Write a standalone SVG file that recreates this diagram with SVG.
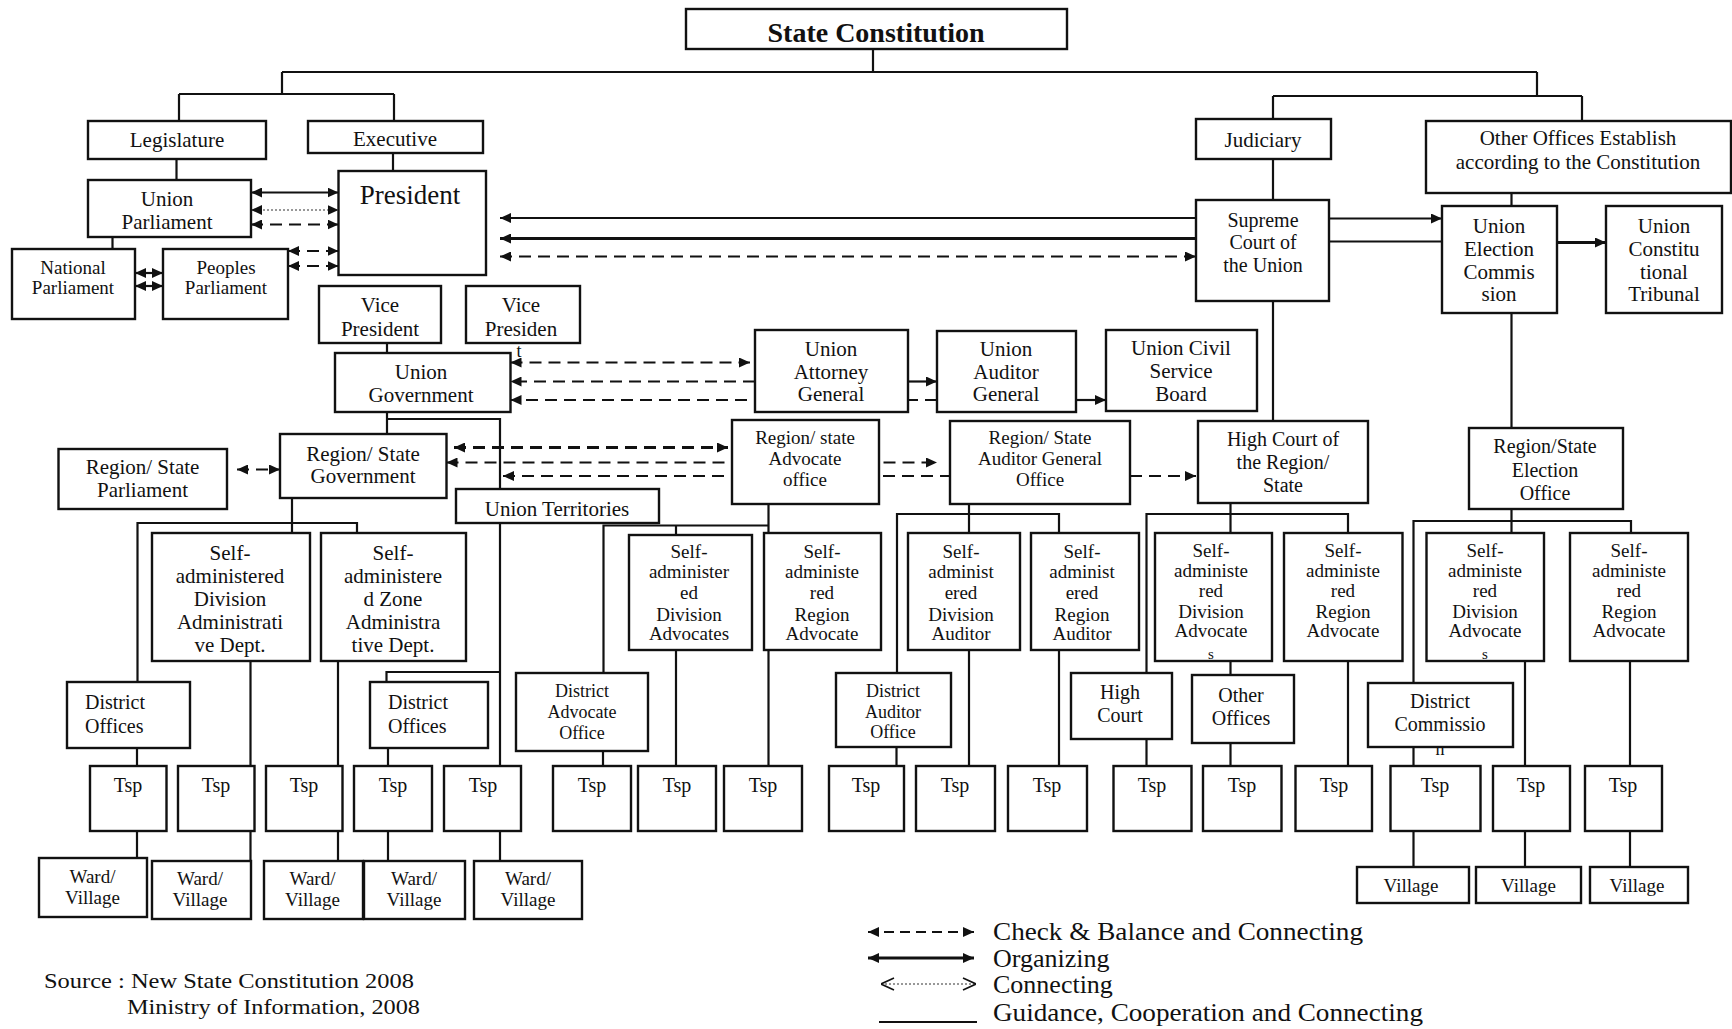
<svg xmlns="http://www.w3.org/2000/svg" width="1732" height="1029" viewBox="0 0 1732 1029">
<style>
  rect { fill:#fff; stroke:#111; stroke-width:2.4; }
  text { font-family:"Liberation Serif","Times New Roman",serif; font-size:21px; fill:#111; text-anchor:middle; }
  .sm { font-size:19px; }
  .xs { font-size:18px; }
  .tiny { font-size:15px; }
  .md { font-size:20px; }
  .lft { text-anchor:start; }
  .title { font-size:28px; font-weight:bold; }
  .big { font-size:27px; }
  .ln { fill:none; stroke:#111; stroke-width:2.2; }
  .dash { fill:none; stroke:#111; stroke-width:2.2; stroke-dasharray:12 7; }
  .thick { stroke-width:3; }
  .dot { fill:none; stroke:#777; stroke-width:1.6; stroke-dasharray:2 2; }
  .both { marker-start:url(#ah); marker-end:url(#ah); }
  .end { marker-end:url(#ah); }
  .legend { font-size:26px; text-anchor:start; }
  .src { font-size:22px; text-anchor:start; }
</style>
<defs>
  <marker id="ah" viewBox="0 0 11 10" refX="11" refY="5" markerWidth="11" markerHeight="10" markerUnits="userSpaceOnUse" orient="auto-start-reverse">
    <path d="M0,0 L11,5 L0,10 z" fill="#111"/>
  </marker>
  <marker id="open" viewBox="0 0 14 14" refX="14" refY="7" markerWidth="14" markerHeight="14" markerUnits="userSpaceOnUse" orient="auto-start-reverse">
    <path d="M1,1 L14,7 L1,13" fill="none" stroke="#111" stroke-width="1.6"/>
  </marker>
</defs>

<!-- connectors (drawn first so boxes sit on top) -->
<g id="connectors">
  <!-- tree lines -->
  <path class="ln" d="M873,49V72 M282,72H1537 M282,72V94 M179,94H394 M179,94V121 M394,94V121
    M1537,72V96 M1273,96H1582 M1273,96V119 M1582,96V121
    M176.5,159V180 M393,153V171 M112.5,237V249 M1273,159V200 M1511.5,193V206
    M1273,301V421 M1511.5,313V428 M387,343V353 M387,412V434 M387,419H500V489
    M500,523V766 M500,831V861 M386.5,682V672H500
    M292,498V533 M137.5,682V523H357V533
    M250.5,661V766 M250.5,831V861 M338,661V766 M338,831V861
    M137,748V766 M137,831V858 M388,748V766 M388,831V861
    M603.5,673V525.5H768.5 M768.5,504V533 M676,525.5V535 M603,751V766
    M676,650V766 M768.5,650V766
    M969,504V533 M897,673V514H1059V533 M896.5,747V766 M969,650V766 M1059,650V766
    M1230.5,503V533 M1146.5,673V514H1348V533 M1146.5,739V766
    M1230.5,661V675 M1230.5,743V766 M1348,661V766
    M1511.5,509V533 M1413.5,683V521H1631V533 M1413.5,747V766 M1413.5,831V867
    M1525,661V766 M1525,831V867 M1630,661V766 M1630,831V867
    M1329,241.5H1442"/>
  <!-- organizing -->
  <path class="ln both" d="M251,192.5H338.5"/>
  <path class="ln both" d="M135,273H163"/>
  <path class="ln both" d="M135,286H163"/>
  <path class="ln end" d="M1196,218H500"/>
  <path class="ln thick end" d="M1196,238.5H500"/>
  <path class="ln end" d="M1329,218.5H1442"/>
  <path class="ln thick end" d="M1557,242.5H1606"/>
  <path class="ln end" d="M908,381.5H937"/>
  <path class="ln end" d="M1076,400H1106"/>
  <!-- connecting -->
  <path class="dot both" d="M251,210H338.5"/>
  <!-- check and balance -->
  <path class="dash both" d="M251,224.5H338.5"/>
  <path class="dash both" d="M288,251H338.5"/>
  <path class="dash both" d="M288,266H338.5"/>
  <path class="dash both" d="M500,256.5H1196"/>
  <path class="dash both" d="M510.5,362.5H750"/>
  <path class="dash end" d="M755,381.5H510.5"/>
  <path class="dash end" d="M937,400H510.5"/>
  <path class="dash thick both" d="M454,447.5H728"/>
  <path class="dash both" d="M446.5,462.5H937"/>
  <path class="dash both" d="M503,476H1196"/>
  <path class="dash both" d="M237,469.5H280"/>
</g>

<g id="state_constitution"><rect x="686" y="9" width="381" height="40"/><text class="title" x="876" y="42">State Constitution</text></g>
<g id="legislature"><rect x="88" y="121" width="178" height="38"/><text x="177" y="147">Legislature</text></g>
<g id="executive"><rect x="308" y="121" width="175" height="32"/><text x="395" y="146">Executive</text></g>
<g id="judiciary"><rect x="1196" y="119" width="135" height="40"/><text x="1263" y="147">Judiciary</text></g>
<g id="other_offices"><rect x="1426" y="121" width="305" height="72"/><text x="1578" y="145">Other Offices Establish</text><text x="1578" y="169">according  to the Constitution</text></g>
<g id="union_parliament"><rect x="88" y="180" width="163" height="57"/><text x="167" y="206">Union</text><text x="167" y="229">Parliament</text></g>
<g id="president"><rect x="338.5" y="171" width="147.5" height="104"/><text class="big" x="410" y="204">President</text></g>
<g id="national_parliament"><rect x="12" y="249" width="123" height="70"/><text class="sm" x="73" y="274">National</text><text class="sm" x="73" y="294">Parliament</text></g>
<g id="peoples_parliament"><rect x="163" y="249" width="125" height="70"/><text class="sm" x="226" y="274">Peoples</text><text class="sm" x="226" y="294">Parliament</text></g>
<g id="supreme_court"><rect x="1196" y="200" width="133" height="101"/><text class="md" x="1263" y="227">Supreme</text><text class="md" x="1263" y="249">Court of</text><text class="md" x="1263" y="272">the Union</text></g>
<g id="union_election_commission"><rect x="1442" y="206" width="115" height="107"/><text x="1499" y="233">Union</text><text x="1499" y="256">Election</text><text x="1499" y="279">Commis</text><text x="1499" y="301">sion</text></g>
<g id="union_constitutional_tribunal"><rect x="1606" y="206" width="116" height="107"/><text x="1664" y="233">Union</text><text x="1664" y="256">Constitu</text><text x="1664" y="279">tional</text><text x="1664" y="301">Tribunal</text></g>
<g id="vice_president_1"><rect x="319" y="286" width="122" height="57"/><text x="380" y="312">Vice</text><text x="380" y="336">President</text></g>
<g id="vice_president_2"><rect x="466" y="286" width="114" height="57"/><text x="521" y="312">Vice</text><text x="521" y="336">Presiden</text><text class="xs" x="519" y="357">t</text></g>
<g id="union_government"><rect x="335" y="353" width="175.5" height="59"/><text x="421" y="379">Union</text><text x="421" y="402">Government</text></g>
<g id="union_attorney_general"><rect x="755" y="330" width="153" height="82"/><text x="831" y="356">Union</text><text x="831" y="379">Attorney</text><text x="831" y="401">General</text></g>
<g id="union_auditor_general"><rect x="937" y="331" width="139" height="81"/><text x="1006" y="356">Union</text><text x="1006" y="379">Auditor</text><text x="1006" y="401">General</text></g>
<g id="union_civil_service_board"><rect x="1106" y="330" width="151" height="81"/><text x="1181" y="355">Union Civil</text><text x="1181" y="378">Service</text><text x="1181" y="401">Board</text></g>
<g id="region_state_government"><rect x="280" y="434" width="166.5" height="64"/><text x="363" y="461">Region/  State</text><text x="363" y="483">Government</text></g>
<g id="region_state_parliament"><rect x="58.5" y="449" width="168.5" height="60"/><text x="142.5" y="474">Region/  State</text><text x="142.5" y="497">Parliament</text></g>
<g id="union_territories"><rect x="456" y="489" width="203" height="34"/><text x="557" y="516">Union Territories</text></g>
<g id="region_state_advocate_office"><rect x="732" y="420" width="147" height="84"/><text class="sm" x="805" y="444">Region/ state</text><text class="sm" x="805" y="465">Advocate</text><text class="sm" x="805" y="486">office</text></g>
<g id="region_state_auditor_general_office"><rect x="950" y="421" width="180" height="83"/><text class="sm" x="1040" y="444">Region/ State</text><text class="sm" x="1040" y="465">Auditor General</text><text class="sm" x="1040" y="486">Office</text></g>
<g id="high_court_region_state"><rect x="1198" y="421" width="170" height="82"/><text class="md" x="1283" y="446">High Court of</text><text class="md" x="1283" y="469">the Region/</text><text class="md" x="1283" y="492">State</text></g>
<g id="region_state_election_office"><rect x="1469" y="428" width="154" height="81"/><text class="md" x="1545" y="453">Region/State</text><text class="md" x="1545" y="477">Election</text><text class="md" x="1545" y="500">Office</text></g>

<g id="sa_division_admin"><rect x="152" y="533" width="158" height="128"/><text x="230" y="560">Self-</text><text x="230" y="583">administered</text><text x="230" y="606">Division</text><text x="230" y="629">Administrati</text><text x="230" y="652">ve Dept.</text></g>
<g id="sa_zone_admin"><rect x="321" y="533" width="145" height="128"/><text x="393" y="560">Self-</text><text x="393" y="583">administere</text><text x="393" y="606">d Zone</text><text x="393" y="629">Administra</text><text x="393" y="652">tive Dept.</text></g>
<g id="sa_division_advocates_1"><rect x="629" y="535" width="123" height="115"/><text class="sm" x="689" y="558">Self-</text><text class="sm" x="689" y="578">administer</text><text class="sm" x="689" y="599">ed</text><text class="sm" x="689" y="621">Division</text><text class="sm" x="689" y="640">Advocates</text></g>
<g id="sa_region_advocate_1"><rect x="764" y="533" width="117" height="117"/><text class="sm" x="822" y="558">Self-</text><text class="sm" x="822" y="578">administe</text><text class="sm" x="822" y="599">red</text><text class="sm" x="822" y="621">Region</text><text class="sm" x="822" y="640">Advocate</text></g>
<g id="sa_division_auditor"><rect x="908" y="533" width="112" height="117"/><text class="sm" x="961" y="558">Self-</text><text class="sm" x="961" y="578">administ</text><text class="sm" x="961" y="599">ered</text><text class="sm" x="961" y="621">Division</text><text class="sm" x="961" y="640">Auditor</text></g>
<g id="sa_region_auditor"><rect x="1031" y="533" width="108" height="117"/><text class="sm" x="1082" y="558">Self-</text><text class="sm" x="1082" y="578">administ</text><text class="sm" x="1082" y="599">ered</text><text class="sm" x="1082" y="621">Region</text><text class="sm" x="1082" y="640">Auditor</text></g>
<g id="sa_division_advocates_2"><rect x="1155" y="533" width="117" height="128"/><text class="sm" x="1211" y="557">Self-</text><text class="sm" x="1211" y="577">administe</text><text class="sm" x="1211" y="597">red</text><text class="sm" x="1211" y="618">Division</text><text class="sm" x="1211" y="637">Advocate</text><text class="tiny" x="1211" y="659">s</text></g>
<g id="sa_region_advocate_2"><rect x="1284" y="533" width="118.5" height="128"/><text class="sm" x="1343" y="557">Self-</text><text class="sm" x="1343" y="577">administe</text><text class="sm" x="1343" y="597">red</text><text class="sm" x="1343" y="618">Region</text><text class="sm" x="1343" y="637">Advocate</text></g>
<g id="sa_division_advocates_3"><rect x="1426.5" y="533" width="117.5" height="128"/><text class="sm" x="1485" y="557">Self-</text><text class="sm" x="1485" y="577">administe</text><text class="sm" x="1485" y="597">red</text><text class="sm" x="1485" y="618">Division</text><text class="sm" x="1485" y="637">Advocate</text><text class="tiny" x="1485" y="659">s</text></g>
<g id="sa_region_advocate_3"><rect x="1570" y="533" width="118" height="128"/><text class="sm" x="1629" y="557">Self-</text><text class="sm" x="1629" y="577">administe</text><text class="sm" x="1629" y="597">red</text><text class="sm" x="1629" y="618">Region</text><text class="sm" x="1629" y="637">Advocate</text></g>

<g id="district_offices_1"><rect x="67" y="682" width="123" height="66"/><text class="md lft" x="85" y="709">District</text><text class="md lft" x="85" y="733">Offices</text></g>
<g id="district_offices_2"><rect x="370" y="682" width="118" height="66"/><text class="md lft" x="388" y="709">District</text><text class="md lft" x="388" y="733">Offices</text></g>
<g id="district_advocate_office"><rect x="516" y="673" width="132" height="78"/><text class="xs" x="582" y="697">District</text><text class="xs" x="582" y="718">Advocate</text><text class="xs" x="582" y="739">Office</text></g>
<g id="district_auditor_office"><rect x="836" y="673" width="115" height="74"/><text class="xs" x="893" y="697">District</text><text class="xs" x="893" y="718">Auditor</text><text class="xs" x="893" y="738">Office</text></g>
<g id="high_court"><rect x="1071" y="673" width="101" height="66"/><text class="md" x="1120" y="699">High</text><text class="md" x="1120" y="722">Court</text></g>
<g id="other_offices_district"><rect x="1192" y="675" width="102" height="68"/><text class="md" x="1241" y="702">Other</text><text class="md" x="1241" y="725">Offices</text></g>
<g id="district_commission"><rect x="1368" y="683" width="145" height="64"/><text class="md" x="1440" y="708">District</text><text class="md" x="1440" y="731">Commissio</text><text class="xs" x="1440" y="755">n</text></g>

<g id="tsp_1"><rect x="90" y="766" width="76.5" height="65"/><text class="md" x="128" y="792">Tsp</text></g>
<g id="tsp_2"><rect x="178" y="766" width="76.5" height="65"/><text class="md" x="216" y="792">Tsp</text></g>
<g id="tsp_3"><rect x="266" y="766" width="76.5" height="65"/><text class="md" x="304" y="792">Tsp</text></g>
<g id="tsp_4"><rect x="354" y="766" width="78" height="65"/><text class="md" x="393" y="792">Tsp</text></g>
<g id="tsp_5"><rect x="444" y="766" width="77" height="65"/><text class="md" x="483" y="792">Tsp</text></g>
<g id="tsp_6"><rect x="553" y="766" width="78" height="65"/><text class="md" x="592" y="792">Tsp</text></g>
<g id="tsp_7"><rect x="638" y="766" width="78" height="65"/><text class="md" x="677" y="792">Tsp</text></g>
<g id="tsp_8"><rect x="724" y="766" width="78" height="65"/><text class="md" x="763" y="792">Tsp</text></g>
<g id="tsp_9"><rect x="829" y="766" width="75" height="65"/><text class="md" x="866" y="792">Tsp</text></g>
<g id="tsp_10"><rect x="916" y="766" width="79" height="65"/><text class="md" x="955" y="792">Tsp</text></g>
<g id="tsp_11"><rect x="1008" y="766" width="79" height="65"/><text class="md" x="1047" y="792">Tsp</text></g>
<g id="tsp_12"><rect x="1113.5" y="766" width="78" height="65"/><text class="md" x="1152" y="792">Tsp</text></g>
<g id="tsp_13"><rect x="1203" y="766" width="78.5" height="65"/><text class="md" x="1242" y="792">Tsp</text></g>
<g id="tsp_14"><rect x="1295.5" y="766" width="76.5" height="65"/><text class="md" x="1334" y="792">Tsp</text></g>
<g id="tsp_15"><rect x="1390.5" y="766" width="90" height="65"/><text class="md" x="1435" y="792">Tsp</text></g>
<g id="tsp_16"><rect x="1493" y="766" width="77" height="65"/><text class="md" x="1531" y="792">Tsp</text></g>
<g id="tsp_17"><rect x="1585" y="766" width="77" height="65"/><text class="md" x="1623" y="792">Tsp</text></g>

<g id="ward_village_1"><rect x="39" y="858" width="108" height="59"/><text class="sm" x="92.5" y="883">Ward/</text><text class="sm" x="92.5" y="904">Village</text></g>
<g id="ward_village_2"><rect x="152" y="861" width="99" height="58"/><text class="sm" x="200" y="885">Ward/</text><text class="sm" x="200" y="906">Village</text></g>
<g id="ward_village_3"><rect x="264" y="861" width="99" height="58"/><text class="sm" x="312.5" y="885">Ward/</text><text class="sm" x="312.5" y="906">Village</text></g>
<g id="ward_village_4"><rect x="364" y="861" width="101" height="58"/><text class="sm" x="414" y="885">Ward/</text><text class="sm" x="414" y="906">Village</text></g>
<g id="ward_village_5"><rect x="474" y="861" width="108" height="58"/><text class="sm" x="528" y="885">Ward/</text><text class="sm" x="528" y="906">Village</text></g>
<g id="village_1"><rect x="1357" y="867" width="112" height="36"/><text class="sm" x="1411" y="892">Village</text></g>
<g id="village_2"><rect x="1476" y="867" width="105" height="36"/><text class="sm" x="1528.5" y="892">Village</text></g>
<g id="village_3"><rect x="1590" y="867" width="98" height="36"/><text class="sm" x="1637" y="892">Village</text></g>

<g id="legend">
  <path class="dash both" style="stroke-dasharray:10 6" d="M868,932H974"/>
  <path class="ln thick both" d="M868,958H974"/>
  <path class="dot" style="marker-start:url(#open);marker-end:url(#open)" d="M881,984H976"/>
  <path class="ln" d="M879,1022H977"/>
  <text class="legend" x="993" y="940" textLength="370" lengthAdjust="spacingAndGlyphs">Check &amp; Balance and Connecting</text>
  <text class="legend" x="993" y="967">Organizing</text>
  <text class="legend" x="993" y="993">Connecting</text>
  <text class="legend" x="993" y="1021" textLength="430" lengthAdjust="spacingAndGlyphs">Guidance,  Cooperation and Connecting</text>
</g>
<g id="source">
  <text class="src" x="44" y="988" textLength="370" lengthAdjust="spacingAndGlyphs">Source : New  State Constitution 2008</text>
  <text class="src" x="127" y="1014" textLength="293" lengthAdjust="spacingAndGlyphs">Ministry  of Information,  2008</text>
</g>
</svg>
